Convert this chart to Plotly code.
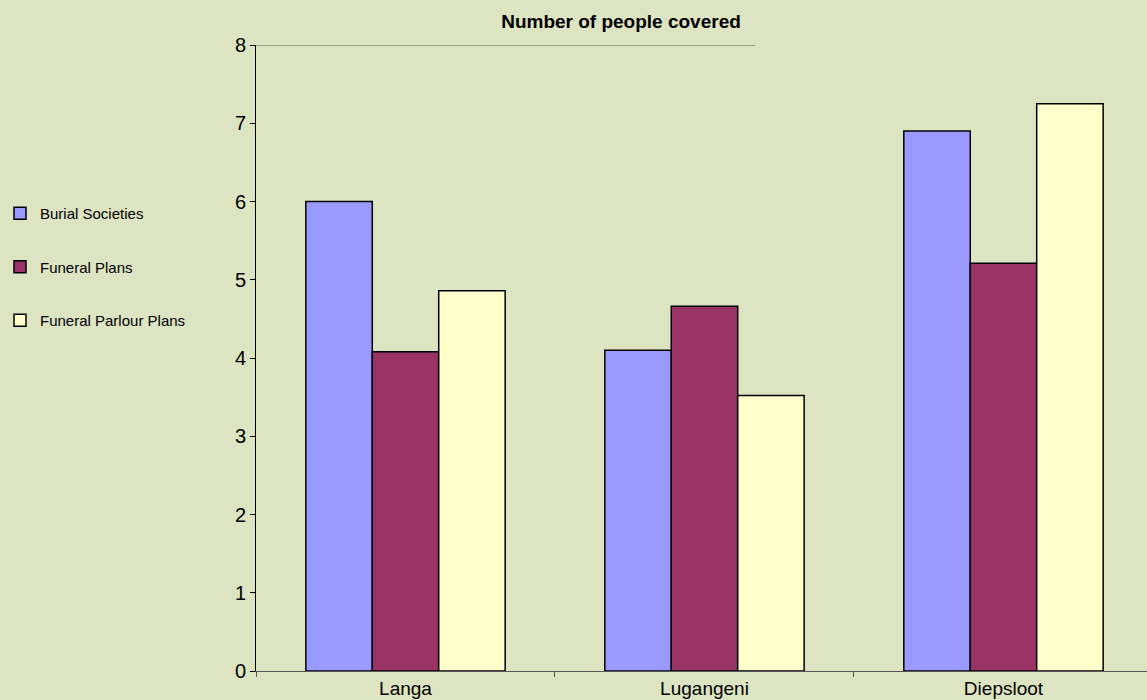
import plotly.graph_objects as go

categories = ["Langa", "Lugangeni", "Diepsloot"]
burial_societies = [6.0, 4.1, 6.9]
funeral_plans = [4.08, 4.66, 5.21]
funeral_parlour_plans = [4.86, 3.52, 7.25]
series_names = ["Burial Societies", "Funeral Plans", "Funeral Parlour Plans"]
series_colors = ["#9999FF", "#993366", "#FFFFCC"]
y_ticks = [0, 1, 2, 3, 4, 5, 6, 7, 8]

bg = "#DDE4C1"
font_fam = "Liberation Sans, Arial, sans-serif"

fig = go.Figure()
for name, vals, col in zip(series_names, [burial_societies, funeral_plans, funeral_parlour_plans], series_colors):
    fig.add_trace(go.Bar(
        x=categories, y=vals, name=name, legendgroup=name,
        marker=dict(color=col, line=dict(color="black", width=1.5)),
    ))

fig.update_layout(
    width=1147, height=700,
    paper_bgcolor=bg, plot_bgcolor=bg,
    margin=dict(l=256, r=0, t=45, b=29),
    barmode="group", bargap=1/3, bargroupgap=0,
    title=dict(text="<b>Number of people covered</b>", x=621/1147, xanchor="center",
               y=1-21/700, yanchor="middle", xref="container", yref="container",
               font=dict(family=font_fam, size=19, color="black")),
    legend=dict(xref="container", yref="container", x=0, y=1-197/700,
                xanchor="left", yanchor="top", bgcolor="rgba(0,0,0,0)",
                font=dict(family=font_fam, size=15, color="black"),
                tracegroupgap=31, itemwidth=30),
    showlegend=True,
    xaxis=dict(range=[-0.5, 2.48], showgrid=False, showline=True, linecolor="#555555", linewidth=1,
               ticks="outside", tickson="boundaries", ticklen=5, tickcolor="#555555",
               tickfont=dict(family=font_fam, size=19, color="black")),
    yaxis=dict(range=[0, 8], tickvals=y_ticks, showgrid=False, zeroline=False, showline=True,
               linecolor="black", linewidth=1, ticks="outside", ticklen=5, tickcolor="black",
               tickfont=dict(family=font_fam, size=20, color="black")),
)

fig.add_shape(type="line", xref="x", yref="y", x0=-0.5, x1=1.17, y0=8, y1=8,
              line=dict(color="#888888", width=1.5))

fig.write_html("out.html")
